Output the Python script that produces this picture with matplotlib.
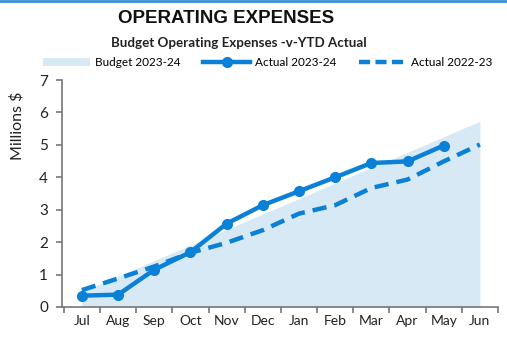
import matplotlib.pyplot as plt
from matplotlib.patches import Patch
from matplotlib.lines import Line2D

months = ["Jul", "Aug", "Sep", "Oct", "Nov", "Dec", "Jan", "Feb", "Mar", "Apr", "May", "Jun"]
budget_2324 = [0.48, 0.95, 1.43, 1.91, 2.39, 2.87, 3.34, 3.82, 4.30, 4.77, 5.25, 5.73]
actual_2324 = [0.35, 0.38, 1.15, 1.69, 2.57, 3.14, 3.57, 4.00, 4.44, 4.49, 4.98]
actual_2223 = [0.52, 0.88, 1.25, 1.67, 1.98, 2.37, 2.88, 3.14, 3.67, 3.93, 4.49, 5.01]

blue = "#0a80d6"
area = "#d8e9f6"

fig = plt.figure(figsize=(5.07, 3.38), dpi=100)
ax = fig.add_axes([62 / 507, 1 - 307 / 338, 436 / 507, 227 / 338])

x = list(range(len(months)))
ax.fill_between(x, 0, budget_2324, color=area, lw=0)
ax.plot(x, actual_2223, color=blue, lw=3.2, dashes=(3.2, 1.8), solid_capstyle="butt")
ax.plot(x[:len(actual_2324)], actual_2324, color=blue, lw=3.2, marker="o", ms=7)

ax.set_xlim(-0.55, 11.5)
ax.set_ylim(0, 7)
ax.set_xticks(x)
ax.set_xticklabels(months, fontsize=10, family="Lato", color="#222222")
ax.set_xticks([i - 0.5 for i in range(13)], minor=True)
ax.tick_params(axis="x", which="major", length=0, pad=6)
ax.tick_params(axis="x", which="minor", length=4, color="#777777", width=1.2)
ax.set_yticks(range(8))
ax.set_yticklabels([str(i) for i in range(8)], fontsize=11, family="Lato", color="#222222")
ax.tick_params(axis="y", length=4, color="#777777", width=1.2, pad=6)
for s in ["top", "right"]:
    ax.spines[s].set_visible(False)
for s in ["left", "bottom"]:
    ax.spines[s].set_color("#777777")
    ax.spines[s].set_linewidth(1.2)

ax.set_ylabel("Millions $", fontsize=11.5, family="Lato", color="#222222")
ax.yaxis.set_label_coords(-0.085, 0.8)

fig.text(0.445, 0.945, "OPERATING EXPENSES", ha="center", va="center",
         fontsize=13.5, fontweight="bold", family="Liberation Sans", color="#111111")
fig.text(0.472, 0.873, "Budget Operating Expenses -v-YTD Actual", ha="center", va="center",
         fontsize=9.6, fontweight="bold", family="Lato", color="#222222")

handles = [
    Patch(facecolor=area, edgecolor="none"),
    Line2D([], [], color=blue, lw=3.2, marker="o", ms=7),
    Line2D([], [], color=blue, lw=3.2, dashes=(2.5, 1.2)),
]
labels = ["Budget 2023-24", "Actual 2023-24", "Actual 2022-23"]
fig.legend(handles, labels, loc="center", bbox_to_anchor=(0.528, 0.815), ncol=3,
           frameon=False, prop={"family": "Lato", "size": 8.5},
           handlelength=4.0, columnspacing=1.9, handletextpad=0.4)

fig.add_artist(Line2D([0, 1], [0.997, 0.997], color="#3a8fd8", lw=2, transform=fig.transFigure))

fig.savefig("out.png", dpi=100)
